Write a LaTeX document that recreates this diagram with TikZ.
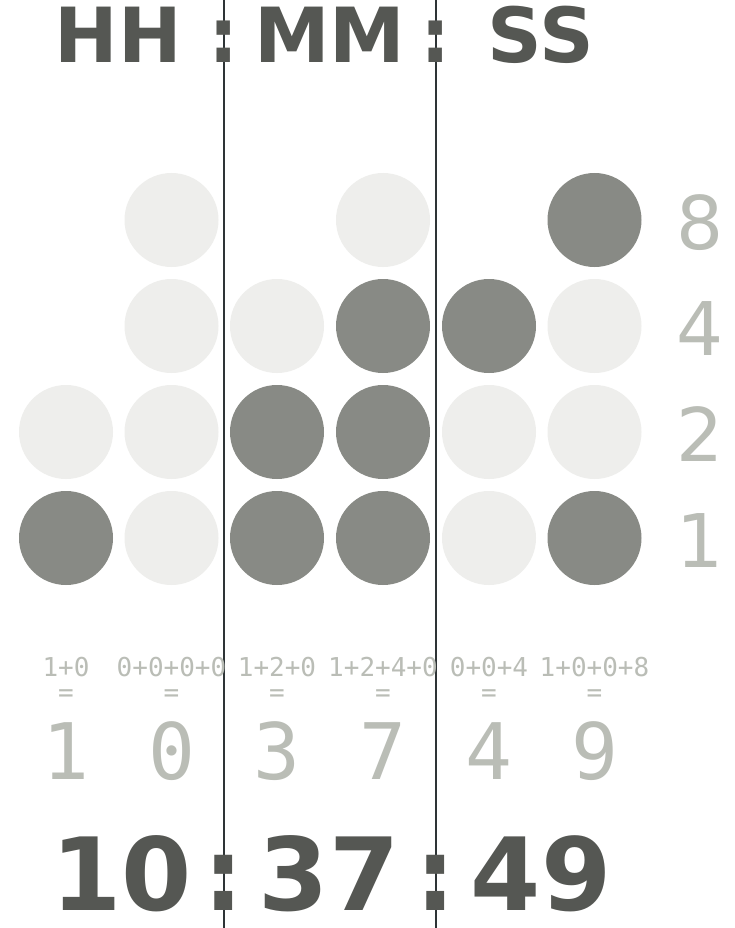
\documentclass[tikz,border=0pt]{standalone}
\usepackage{fontspec}
\setmainfont{DejaVu Sans}
\setmonofont{DejaVu Sans Mono}
\definecolor{darktext}{HTML}{555753}
\definecolor{lighttext}{HTML}{BABDB6}
\definecolor{oncol}{HTML}{888A85}
\definecolor{offcol}{HTML}{EEEEEC}
\definecolor{rulecol}{HTML}{2E3436}
\tikzset{
  bit/.style={circle,inner sep=0pt,minimum size=94pt},
  on/.style={bit,fill=oncol},
  off/.style={bit,fill=offcol},
  headtxt/.style={anchor=base,inner sep=0pt,text depth=0pt,text=darktext,font=\fontsize{76}{80}\selectfont\bfseries},
  timetxt/.style={anchor=base,inner sep=0pt,text depth=0pt,text=darktext,font=\fontsize{101}{104}\selectfont\bfseries},
  sumtxt/.style={anchor=base,inner sep=0pt,text=lighttext,font=\fontsize{26}{28}\selectfont\ttfamily},
  digtxt/.style={anchor=base,inner sep=0pt,text=lighttext,font=\fontsize{78}{80}\selectfont\ttfamily},
  weighttxt/.style={anchor=base,inner sep=0pt,text=lighttext,font=\fontsize{74}{76}\selectfont},
  divider/.style={draw=rulecol,line width=1.3pt}
}
\begin{document}
\begin{tikzpicture}[x=1pt,y=-1pt]
\useasboundingbox (0,0) rectangle (734,928);
\fill[white] (0,0) rectangle (734,928);
% column centres
\def\cA{66}\def\cB{171.5}\def\cC{277}\def\cD{383}\def\cE{489}\def\cF{594.5}
% dividers
\coordinate (l1t) at (224,0); \coordinate (l1b) at (224,928);
\coordinate (l2t) at (436,0); \coordinate (l2b) at (436,928);
\draw[divider] (l1t) -- (l1b);
\draw[divider] (l2t) -- (l2b);
% header
\node[headtxt] (hh) at (118.5,63) {HH};
\node[headtxt] (hc1) at (224,63) {:};
\node[headtxt] (mm) at (330,63) {MM};
\node[headtxt] (hc2) at (436,63) {:};
\node[headtxt] (ss) at (541,63) {SS};
% bits: rows 8,4,2,1 at y 220,326,432,538
\node[off] (a2) at (\cA,432) {};
\node[on]  (a1) at (\cA,538) {};
\node[off] (b8) at (\cB,220) {};
\node[off] (b4) at (\cB,326) {};
\node[off] (b2) at (\cB,432) {};
\node[off] (b1) at (\cB,538) {};
\node[off] (c4) at (\cC,326) {};
\node[on]  (c2) at (\cC,432) {};
\node[on]  (c1) at (\cC,538) {};
\node[off] (d8) at (\cD,220) {};
\node[on]  (d4) at (\cD,326) {};
\node[on]  (d2) at (\cD,432) {};
\node[on]  (d1) at (\cD,538) {};
\node[on]  (e4) at (\cE,326) {};
\node[off] (e2) at (\cE,432) {};
\node[off] (e1) at (\cE,538) {};
\node[on]  (f8) at (\cF,220) {};
\node[off] (f4) at (\cF,326) {};
\node[off] (f2) at (\cF,432) {};
\node[on]  (f1) at (\cF,538) {};
% weights
\node[weighttxt] (w8) at (700,249) {8};
\node[weighttxt] (w4) at (700,355) {4};
\node[weighttxt] (w2) at (700,461) {2};
\node[weighttxt] (w1) at (700,567) {1};
% sums
\node[sumtxt] (sa) at (\cA,676) {1+0};
\node[sumtxt] (sb) at (\cB,676) {0+0+0+0};
\node[sumtxt] (sc) at (\cC,676) {1+2+0};
\node[sumtxt] (sd) at (\cD,676) {1+2+4+0};
\node[sumtxt] (se) at (\cE,676) {0+0+4};
\node[sumtxt] (sf) at (\cF,676) {1+0+0+8};
\node[sumtxt] (qa) at (\cA,701) {=};
\node[sumtxt] (qb) at (\cB,701) {=};
\node[sumtxt] (qc) at (\cC,701) {=};
\node[sumtxt] (qd) at (\cD,701) {=};
\node[sumtxt] (qe) at (\cE,701) {=};
\node[sumtxt] (qf) at (\cF,701) {=};
% digits
\node[digtxt] (da) at (\cA,779) {1};
\node[digtxt] (db) at (\cB,779) {0};
\node[digtxt] (dc) at (\cC,779) {3};
\node[digtxt] (dd) at (\cD,779) {7};
\node[digtxt] (de) at (\cE,779) {4};
\node[digtxt] (df) at (\cF,779) {9};
% time
\node[timetxt] (t1) at (121.5,910) {10};
\node[timetxt] (tc1) at (224,910) {:};
\node[timetxt] (t2) at (329,910) {37};
\node[timetxt] (tc2) at (436,910) {:};
\node[timetxt] (t3) at (541,910) {49};
\end{tikzpicture}
\end{document}
